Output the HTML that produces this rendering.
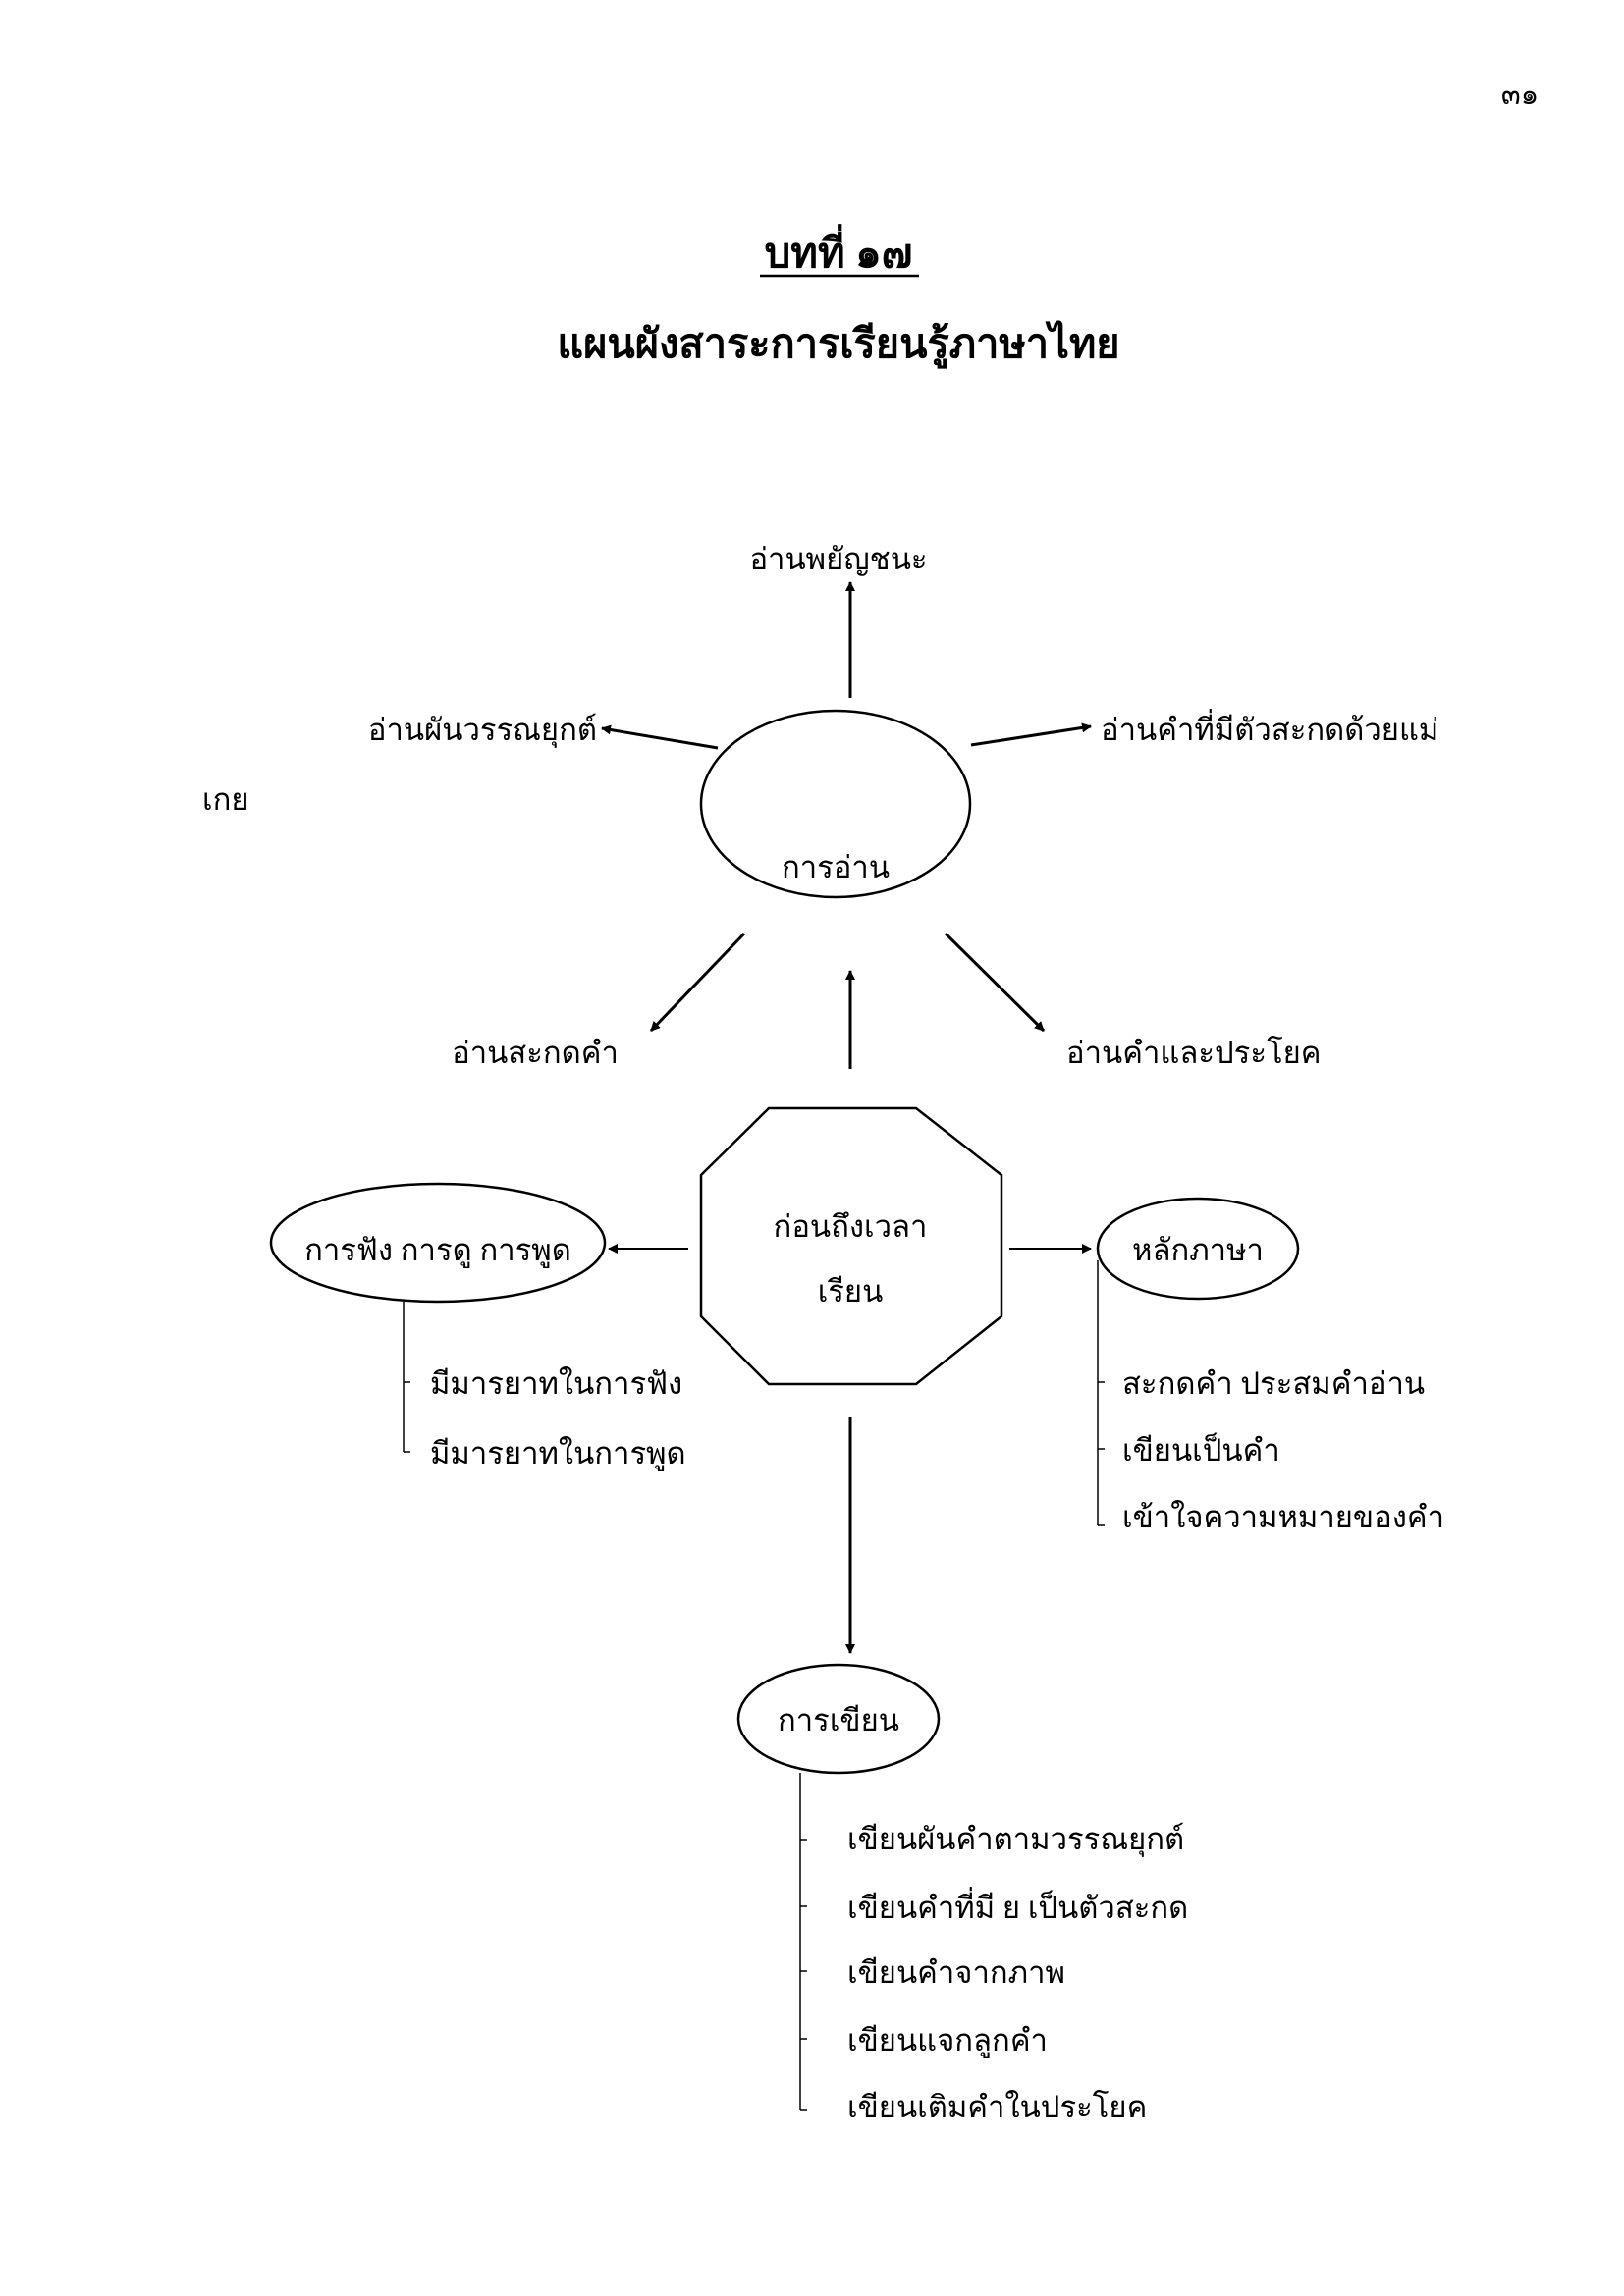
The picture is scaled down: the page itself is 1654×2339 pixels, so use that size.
<!DOCTYPE html>
<html><head><meta charset="utf-8">
<style>
html,body{margin:0;padding:0;background:#fff;}
svg{display:block;}
text{font-family:"Liberation Serif","DejaVu Serif",serif;fill:#000;}
</style></head>
<body>
<svg width="1654" height="2339" viewBox="0 0 1654 2339" xmlns="http://www.w3.org/2000/svg">
<defs>
<marker id="ah" markerWidth="10" markerHeight="10" refX="9" refY="5" orient="auto" markerUnits="userSpaceOnUse">
<path d="M0,0 L10,5 L0,10 z" fill="#000"/>
</marker>
</defs>
<g font-size="31" transform="translate(-4,-6)">
<text x="1552" y="112" text-anchor="middle" font-size="29">๓๑</text>
<text x="858" y="278" text-anchor="middle" font-size="42" font-weight="bold">บทที่ ๑๗</text>
<line x1="778" y1="287" x2="940" y2="287" stroke="#000" stroke-width="2.5"/>
<text x="858" y="370" text-anchor="middle" font-size="41.5" font-weight="bold">แผนผังสาระการเรียนรู้ภาษาไทย</text>

<g stroke="#000" stroke-width="3" fill="none">
<line x1="870" y1="717" x2="870" y2="599" marker-end="url(#ah)"/>
<ellipse cx="855" cy="825" rx="137" ry="95" stroke-width="2.5"/>
<line x1="735" y1="768" x2="617" y2="748" marker-end="url(#ah)"/>
<line x1="993" y1="765" x2="1115" y2="746" marker-end="url(#ah)"/>
<line x1="762" y1="957" x2="667" y2="1056" marker-end="url(#ah)"/>
<line x1="967" y1="957" x2="1067" y2="1056" marker-end="url(#ah)"/>
<line x1="870" y1="1095" x2="870" y2="995" marker-end="url(#ah)"/>
<polygon points="787,1135 937,1135 1024,1203 1024,1347 937,1416 787,1416 718,1347 718,1203" stroke-width="2.5"/>
<line x1="705" y1="1278" x2="624" y2="1278" marker-end="url(#ah)" stroke-width="2"/>
<ellipse cx="450" cy="1272" rx="170" ry="60" stroke-width="2.5"/>
<line x1="1032" y1="1278" x2="1115" y2="1278" marker-end="url(#ah)" stroke-width="2"/>
<ellipse cx="1224" cy="1278" rx="102" ry="51" stroke-width="2.5"/>
<line x1="870" y1="1450" x2="870" y2="1690" marker-end="url(#ah)"/>
<ellipse cx="858" cy="1757" rx="102" ry="55" stroke-width="2.5"/>
</g>
<g stroke="#000" stroke-width="1.5" fill="none">
<line x1="415" y1="1332" x2="415" y2="1485"/>
<line x1="415" y1="1414" x2="422" y2="1414"/>
<line x1="415" y1="1485" x2="422" y2="1485"/>
<line x1="1122" y1="1290" x2="1122" y2="1560"/>
<line x1="1122" y1="1414" x2="1129" y2="1414"/>
<line x1="1122" y1="1482" x2="1129" y2="1482"/>
<line x1="1122" y1="1560" x2="1129" y2="1560"/>
<line x1="819" y1="1812" x2="819" y2="2156"/>
<line x1="819" y1="1880" x2="826" y2="1880"/>
<line x1="819" y1="1948" x2="826" y2="1948"/>
<line x1="819" y1="2014" x2="826" y2="2014"/>
<line x1="819" y1="2083" x2="826" y2="2083"/>
<line x1="819" y1="2156" x2="826" y2="2156"/>
</g>

<text x="858" y="586" text-anchor="middle">อ่านพยัญชนะ</text>
<text x="612" y="760" text-anchor="end">อ่านผันวรรณยุกต์</text>
<text x="1125" y="760">อ่านคำที่มีตัวสะกดด้วยแม่</text>
<text x="210" y="831">เกย</text>
<text x="855" y="900" text-anchor="middle">การอ่าน</text>
<text x="549" y="1089" text-anchor="middle">อ่านสะกดคำ</text>
<text x="1090" y="1089">อ่านคำและประโยค</text>
<text x="870" y="1266" text-anchor="middle">ก่อนถึงเวลา</text>
<text x="870" y="1332" text-anchor="middle">เรียน</text>
<text x="450" y="1290" text-anchor="middle">การฟัง การดู การพูด</text>
<text x="1224" y="1290" text-anchor="middle">หลักภาษา</text>
<text x="858" y="1769" text-anchor="middle">การเขียน</text>

<text x="442" y="1426">มีมารยาทในการฟัง</text>
<text x="442" y="1497">มีมารยาทในการพูด</text>

<text x="1147" y="1426">สะกดคำ ประสมคำอ่าน</text>
<text x="1147" y="1494">เขียนเป็นคำ</text>
<text x="1147" y="1562">เข้าใจความหมายของคำ</text>

<text x="867" y="1890">เขียนผันคำตามวรรณยุกต์</text>
<text x="867" y="1960">เขียนคำที่มี ย เป็นตัวสะกด</text>
<text x="867" y="2026">เขียนคำจากภาพ</text>
<text x="867" y="2095">เขียนแจกลูกคำ</text>
<text x="867" y="2163">เขียนเติมคำในประโยค</text>
</g>
</svg>
</body></html>
